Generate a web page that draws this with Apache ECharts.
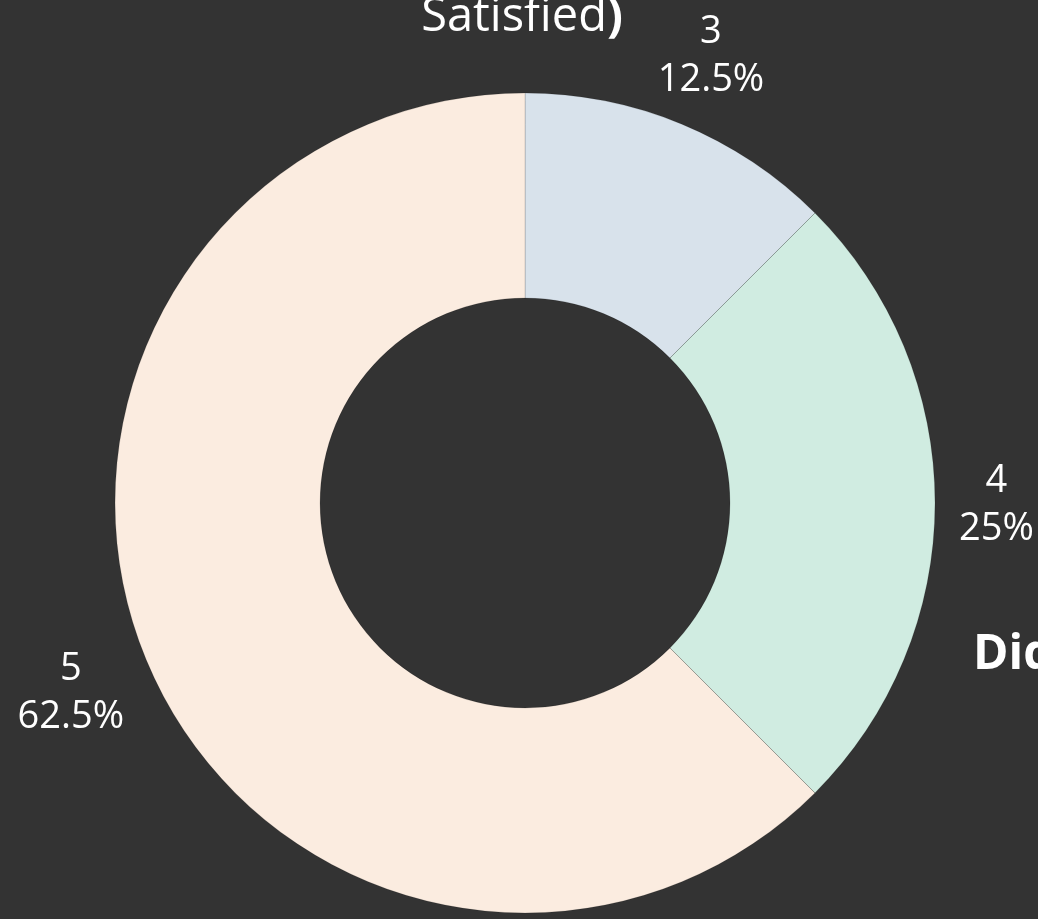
<!DOCTYPE html>
<html>
<head>
<meta charset="utf-8">
<script src="https://cdn.jsdelivr.net/npm/echarts@6/dist/echarts.min.js"></script>
<style>
  html, body { margin: 0; padding: 0; background: #333333; }
  #chart { width: 1038px; height: 919px; }
</style>
</head>
<body>
<div id="chart"></div>
<script>
const ratings = ['3', '4', '5']
const counts = [1, 2, 5]
const sliceColors = ['#d8e2eb', '#d0ece1', '#fbece0']

const FONT = '"Open Sans", "Noto Sans", sans-serif'
const OUTER_R = 410
const INNER_R = 205
const CENTER = ['50.58%', '54.73%']
const LABEL_GAP = 24

const chart = echarts.init(document.getElementById('chart'))

// place outside labels like plotly does: box edge sits a fixed gap off the rim
function placeLabel(params) {
  const total = counts.reduce((a, b) => a + b, 0)
  let before = 0
  for (let i = 0; i < params.dataIndex; i++) before += counts[i]
  const theta = ((before + counts[params.dataIndex] / 2) / total) * Math.PI * 2
  const nx = Math.sin(theta)
  const ny = -Math.cos(theta)
  const cx = chart.getWidth() * parseFloat(CENTER[0]) / 100
  const cy = chart.getHeight() * parseFloat(CENTER[1]) / 100
  const hw = params.labelRect.width / 2
  const hh = params.labelRect.height / 2
  const reach = Math.min(
    Math.abs(nx) > 1e-6 ? hw / Math.abs(nx) : Infinity,
    Math.abs(ny) > 1e-6 ? hh / Math.abs(ny) : Infinity
  )
  const d = OUTER_R + LABEL_GAP + reach
  return { x: cx + nx * d, y: cy + ny * d + 2, align: 'center', verticalAlign: 'middle' }
}

chart.setOption({
  backgroundColor: '#333333',
  textStyle: { fontFamily: FONT },
  graphic: [
    {
      type: 'text',
      x: 522,
      y: 41,
      style: {
        text: '{n|Satisfied}{b|)}',
        textAlign: 'center',
        textVerticalAlign: 'bottom',
        fill: '#ffffff',
        rich: {
          n: { fontSize: 47, fontFamily: FONT, color: '#ffffff' },
          b: { fontSize: 47, fontFamily: FONT, fontWeight: 'bold', color: '#ffffff' },
        },
      },
    },
    {
      type: 'text',
      x: 973,
      y: 655,
      style: {
        text: 'Did',
        textVerticalAlign: 'middle',
        fill: '#ffffff',
        fontSize: 48,
        fontWeight: 'bold',
        fontFamily: FONT,
      },
    },
  ],
  series: [
    {
      type: 'pie',
      center: CENTER,
      radius: [INNER_R, OUTER_R],
      startAngle: 90,
      clockwise: true,
      avoidLabelOverlap: false,
      silent: true,
      itemStyle: { borderColor: 'rgba(0,0,0,0.14)', borderWidth: 1 },
      label: {
        show: true,
        position: 'outside',
        formatter: (p) => `${p.name}\n${p.percent}%`,
        color: '#ffffff',
        fontSize: 38,
        lineHeight: 48,
        fontFamily: FONT,
      },
      labelLine: { show: false },
      labelLayout: placeLabel,
      data: ratings.map((r, i) => ({ name: r, value: counts[i], itemStyle: { color: sliceColors[i] } })),
    },
  ],
})
</script>
</body>
</html>
